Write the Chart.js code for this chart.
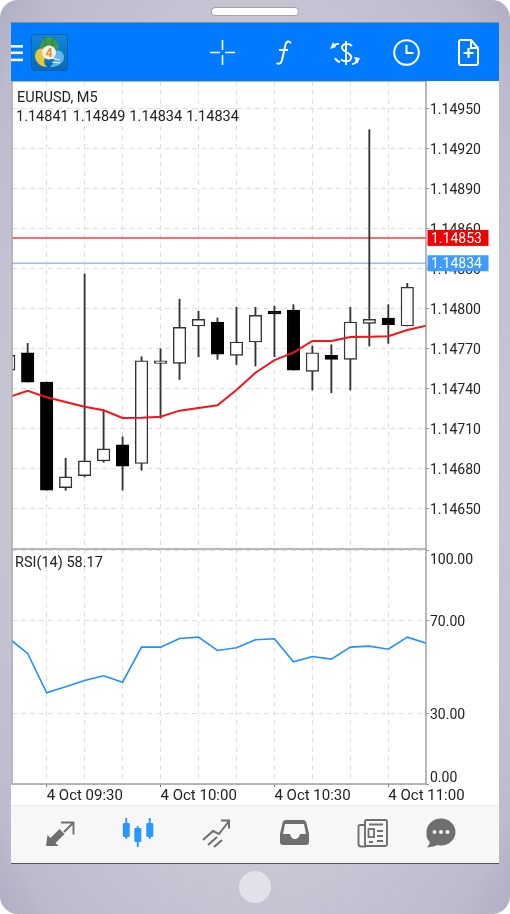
<!DOCTYPE html>
<html><head><meta charset="utf-8">
<script src="https://cdn.jsdelivr.net/npm/chart.js@4"></script>
<style>
html,body{margin:0;padding:0;background:#fff;width:510px;height:914px;overflow:hidden;font-family:Roboto,sans-serif}
#phone{position:absolute;left:0;top:0;width:510px;height:914px;border-radius:18px;overflow:hidden;
 background:radial-gradient(ellipse at 50% 50%,#c9c8d6 60%,#bcbbcd 90%,#aeadc2 100%);}
#speaker{position:absolute;left:212px;top:8px;width:86px;height:7px;border-radius:4px;background:#fff;border:0;box-shadow:0 0 0 1px #a3a3ad}
#home{position:absolute;left:239px;top:871px;width:32px;height:32px;border-radius:50%;background:#e1e1e9}
#screen{position:absolute;left:11px;top:22px;width:488px;height:842px;background:#fff;border-top:1px solid #8a8a92;box-sizing:border-box;border-bottom:1px solid #55555c}
#bar{position:absolute;left:11px;top:23px;width:488px;height:58px;background:#007aff}
#nav{position:absolute;left:11px;top:805px;width:488px;height:58px;background:#f7f7f7;border-top:1px solid #ececec;box-sizing:border-box}
canvas{position:absolute;display:block}
#cPrice{left:11px;top:81px}
#cRsi{left:11px;top:549px}
.t{position:absolute;font:14.5px Roboto,sans-serif;color:#222;white-space:pre;line-height:18px}
svg{position:absolute;left:0;top:0}
</style></head><body>
<div id="phone">
<div id="speaker"></div><div id="home"></div>
<div id="screen"></div><div id="bar"></div><div id="nav"></div>
<canvas id="cPrice" width="479" height="468"></canvas>
<canvas id="cRsi" width="479" height="256"></canvas>
<div class="t" style="left:17px;top:89px">EURUSD, M5</div>
<div class="t" style="left:16px;top:108px;word-spacing:0.4px">1.14841 1.14849 1.14834 1.14834</div>
<div class="t" style="left:15px;top:554px">RSI(14) 58.17</div>
<svg width="510" height="914" viewBox="0 0 510 914" fill="none">
 <defs><linearGradient id="lg" x1="0" y1="0" x2="0" y2="1"><stop offset="0" stop-color="#0f86d8"/><stop offset="1" stop-color="#0a6ab9"/></linearGradient></defs>
 <!-- hamburger -->
 <g fill="#fff"><rect x="11" y="45" width="12" height="2.6"/><rect x="11" y="51.5" width="12" height="2.6"/><rect x="11" y="58.6" width="12" height="2.6"/></g>
 <!-- logo -->
 <rect x="31.500" y="34.500" width="36" height="36" rx="3" fill="url(#lg)" stroke="#0a5ea6"/>
 <path d="M40 50c0-8 4-13 9-13s10 5 10 13c-3-2-6-3-9.500-3s-6.500 1-9.500 3z" fill="#3d9c4c"/>
 <path d="M44 37.500c1.500 3 2 7 1.500 10M54 37.500c-1.500 3-2 7-1.500 10" stroke="#2a7a3a" stroke-width="1"/>
 <path d="M36 60c-2-4-1-9 3-11 3-1.500 5 0 6.500 3l-1 8c-1 3 1 6 3 7-5 0-9-2-11.500-7z" fill="#e6c63e"/>
 <path d="M63 61c2-4 1-8-3-10-3-1.500-6 0-7 3l1 6c0 3-2 5-4 7 6 0 10-2 13-6z" fill="#5fb6e2"/>
 <path d="M51 58l9 2M52 62l8 1" stroke="#eaf6fc" stroke-width="1"/>
 <circle cx="49" cy="52.500" r="7" fill="#f6f1e4"/>
 <text x="49" y="57" text-anchor="middle" font-family="Roboto" font-weight="700" font-size="12.500" fill="#ea8a2c">4</text>
 <!-- crosshair -->
 <g stroke="#fff" stroke-width="1.6"><path d="M210 52.5h10M225 52.5h10M222.5 40v10M222.5 55v10"/></g>
 <!-- f -->
 <path d="M291 43c-3-3-5-1-5.600 2l-3.400 15c-.7 3.500-3 4.500-5.500 3M279 50h9" stroke="#fff" stroke-width="2"/>
 <!-- dollar exchange -->
 <g stroke="#fff" stroke-width="1.900"><path d="M346 41v24M352 46c-3-3-9-3-10 1-.6 3 3 4 5 5.500 3 1.700 5 3 4 6-1 3.500-7 3.500-10 1"/>
  <path d="M339 44c-2-.5-4 .5-5.500 2M335 58c1 2 3 3.600 5 4M352 64c2 0 4-1 5-4"/></g>
 <g fill="#fff"><path d="M330 49l3-7 3 5zM354 57l6 1-3 6z"/></g>
 <!-- clock -->
 <circle cx="406.500" cy="52.500" r="12.300" stroke="#fff" stroke-width="2"/><path d="M406.500 45v8h7" stroke="#fff" stroke-width="2"/>
 <!-- new doc -->
 <path d="M459 42a2 2 0 0 1 2-2h10l7 8v15a2 2 0 0 1-2 2h-15a2 2 0 0 1-2-2zM471 40v8h7" stroke="#fff" stroke-width="2"/>
 <path d="M468.500 48v10M463.500 53h10" stroke="#fff" stroke-width="2.200"/>
 <!-- bottom nav: deal arrows -->
 <g fill="#6e6e6e"><path d="M46 846l1.500-11 3 3 9-9 5 5-9 9 3 3z"/></g>
 <g stroke="#6e6e6e" stroke-width="1.900"><path d="M61 822.500h12.500v12M73 823l-9 9"/></g>
 <!-- candles (active) -->
 <g fill="#2c96ff"><rect x="122.800" y="823" width="7" height="14" rx="1.200"/><rect x="125.300" y="818" width="1.900" height="21"/>
 <rect x="134.300" y="828" width="7" height="14" rx="1.200"/><rect x="136.800" y="826" width="1.900" height="21"/>
 <rect x="146.300" y="823" width="7" height="14" rx="1.200"/><rect x="148.800" y="818" width="1.900" height="21"/></g>
 <!-- trend -->
 <g stroke="#6e6e6e" stroke-width="2"><path d="M203 840l10-9 6 3 10-13M221 820.500h8v8M208 845l9-8M214 847l8-7"/></g>
 <!-- inbox -->
 <path d="M286 820h17c2 0 3 1 3.500 3l2.500 11v8c0 2-1 3-3 3h-23c-2 0-3-1-3-3v-8l2.500-11c.5-2 1.500-3 3.500-3zM283 834h7c1 4 3 5 5 5s4-1 5-5h6l-2-10h-19z" fill="#6e6e6e" fill-rule="evenodd"/>
 <!-- news -->
 <g stroke="#6e6e6e" stroke-width="1.900"><rect x="365" y="820" width="22" height="26" rx="1.500"/><path d="M365 825h-5c-1 0-1.500 1-1.500 2v17c0 1.300 1 2.500 2.500 2.500h5M369 824.500h14M377 831h6M377 836h6M377 841h6M369 842h4"/></g>
 <rect x="368.500" y="829" width="5.500" height="8" stroke="#6e6e6e" stroke-width="1.800"/>
 <!-- chat -->
 <path d="M441 818.500c8 0 14.500 6 14.500 13.500s-6.500 13.500-14.500 13.500c-1.500 0-3-.2-4-.5-2 1.500-5 1.500-10 2.500 2-2.500 3-3.500 2.500-6-3-2.500-3-6-3-9.500 0-7.500 6.500-13.500 14.500-13.500z" fill="#6e6e6e"/>
 <g fill="#f7f7f7"><circle cx="434.500" cy="832" r="2"/><circle cx="441" cy="832" r="2"/><circle cx="447.500" cy="832" r="2"/></g>
</svg>
</div>
<script>
// candle index: 5-minute bars, index 2 is 4 Oct 09:30
const candleIndex=[0,1,2,3,4,5,6,7,8,9,10,11,12,13,14,15,16,17,18,19,20,21];
const openSeries =[1.14754,1.14767,1.14745,1.14666,1.14675,1.14686,1.14698,1.14684,1.14759,1.14759,1.14787,1.14790,1.14765,1.14775,1.14798,1.14799,1.14753,1.14765,1.14762,1.14789,1.14793,1.14787];
const highSeries =[1.14768,1.14774,1.14745,1.14688,1.14826,1.14724,1.14704,1.14764,1.14770,1.14807,1.14798,1.14793,1.14801,1.14801,1.14802,1.14803,1.14772,1.14773,1.14801,1.14934,1.14803,1.14819];
const lowSeries  =[1.14752,1.14745,1.14664,1.14664,1.14674,1.14685,1.14664,1.14679,1.14718,1.14747,1.14764,1.14762,1.14758,1.14757,1.14764,1.14754,1.14739,1.14737,1.14739,1.14772,1.14774,1.14787];
const closeSeries=[1.14765,1.14745,1.14664,1.14674,1.14686,1.14695,1.14682,1.14761,1.14761,1.14786,1.14792,1.14766,1.14775,1.14795,1.14796,1.14754,1.14767,1.14762,1.14790,1.14792,1.14788,1.14816];
const maIndex=[0,1,2,3,4,5,6,7,8,9,10,11,12,13,14,15,16,17,18,19,20,21,22];
const maSeries=[1.147338,1.147385,1.147336,1.147301,1.147266,1.147239,1.147181,1.147183,1.147191,1.147236,1.147256,1.147276,1.147391,1.147520,1.147615,1.147670,1.147758,1.147758,1.147788,1.147790,1.147793,1.147840,1.147872];
const rsiSeries=[62.4,55.87,39.02,41.59,44.3,46.3,43.59,58.58,58.58,62.29,62.86,57.15,58.29,61.72,62.15,52.3,54.58,53.44,58.58,59.01,57.72,62.86,60.29];
const priceTicks=[1.1495,1.1492,1.1489,1.1486,1.1483,1.148,1.1477,1.1474,1.1471,1.1468,1.1465];
const rsiTicks=[100,70,30,0];
const timeTickIndex=[2,4,6,8,10,12,14,16,18,20];
const timeLabels={2:'4 Oct 09:30',8:'4 Oct 10:00',14:'4 Oct 10:30',20:'4 Oct 11:00'};
const askPrice=1.14853, bidPrice=1.14834;
const xRange=[0.174,21.986];
const priceRange=[1.14620,1.149705];
const rsiRange=[0,100.6];

Chart.defaults.font.family='Roboto';
Chart.defaults.font.size=14;
Chart.defaults.color='#222';
Chart.defaults.animation=false;

const gridGrey='#dedede';
const gridDash=[5,4];
const frame={id:'frame',afterDraw(c){const a=c.chartArea,x=c.ctx;x.save();x.strokeStyle='#9a9a9a';x.lineWidth=1.4;
  x.strokeRect(a.left,a.top,a.right-a.left,a.bottom-a.top);x.restore();}};
const priceTags={id:'priceTags',afterDraw(c){const x=c.ctx,s=c.scales.y,a=c.chartArea;
  [[askPrice,'#f00000'],[bidPrice,'#3f9dff']].forEach(([v,col])=>{
   const y=s.getPixelForValue(v);x.save();x.fillStyle=col;x.fillRect(a.right+1.5,y-8,61,16);
   x.fillStyle='#fff';x.font='14px Roboto';x.textAlign='left';x.textBaseline='middle';
   x.fillText(v.toFixed(5),a.right+5,y+1.5);x.restore();});}};
const yAxisFit=s=>{s.width=64;s.paddingTop=0;s.paddingBottom=0;};
const xCommon={type:'linear',min:xRange[0],max:xRange[1],offset:false,
  afterBuildTicks(a){a.ticks=timeTickIndex.map(v=>({value:v}));},
  border:{display:false,dash:gridDash}};
// Two-line tick labels with a chosen line height nudge the printed label below the tick
const yCommon=(ticks,cb,lineHeightFor)=>({type:'linear',position:'right',
  afterBuildTicks(a){a.ticks=ticks.map(v=>({value:v}));},afterFit:yAxisFit,
  border:{display:false,dash:gridDash},
  grid:{color:gridGrey,tickColor:'#9a9a9a',tickLength:3,lineWidth:1},
  ticks:{padding:1,autoSkip:false,callback:cb,color:'#222',
    font:c=>({size:14,family:'Roboto',lineHeight:lineHeightFor(c.tick?c.tick.value:null)})}});

new Chart(document.getElementById('cPrice'),{
 type:'bar',
 plugins:[frame,priceTags],
 data:{datasets:[
  {type:'line',order:0,data:maIndex.map((x,i)=>({x,y:maSeries[i]})),borderColor:'#f5141c',borderWidth:2,pointRadius:0,tension:0},
  {type:'bar',order:1,grouped:false,barThickness:12.5,borderSkipped:false,borderWidth:1.4,
   data:candleIndex.map((x,i)=>({x,y:[openSeries[i],closeSeries[i]]})),
   backgroundColor:candleIndex.map(i=>closeSeries[i]>=openSeries[i]?'#fff':'#000'),
   borderColor:candleIndex.map(i=>closeSeries[i]>=openSeries[i]?'#333':'#000')},
  {type:'bar',order:2,grouped:false,barThickness:1.2,borderWidth:0,
   data:candleIndex.map((x,i)=>({x,y:[lowSeries[i],highSeries[i]]})),backgroundColor:'#333'},
  {type:'line',order:3,data:[{x:xRange[0],y:askPrice},{x:xRange[1],y:askPrice}],borderColor:'#ff3b3b',borderWidth:1.5,pointRadius:0},
  {type:'line',order:3,data:[{x:xRange[0],y:bidPrice},{x:xRange[1],y:bidPrice}],borderColor:'#8fc4f8',borderWidth:1.5,pointRadius:0}
 ]},
 options:{responsive:false,layout:{padding:{left:1,right:0,top:0,bottom:0}},
  plugins:{legend:{display:false},tooltip:{enabled:false}},
  scales:{
   x:{...xCommon,afterFit:s=>{s.height=0;},ticks:{display:false,autoSkip:false},
      grid:{offset:false,color:gridGrey,drawTicks:false}},
   y:{...yCommon(priceTicks,v=>['',v.toFixed(5)],()=>'4px'),min:priceRange[0],max:priceRange[1]}
  }}
});

new Chart(document.getElementById('cRsi'),{
 type:'line',
 plugins:[frame],
 data:{datasets:[{data:maIndex.map((x,i)=>({x,y:rsiSeries[i]})),borderColor:'#1e90ff',borderWidth:1.6,pointRadius:0,tension:0}]},
 options:{responsive:false,layout:{padding:{left:1,right:0,top:0,bottom:0}},
  plugins:{legend:{display:false},tooltip:{enabled:false}},
  scales:{
   x:{...xCommon,afterFit:s=>{s.height=21;},
      grid:{offset:false,color:gridGrey,tickLength:3,
        tickColor:c=>c.tick&&timeLabels[c.tick.value]?'#777':'rgba(0,0,0,0)'},
      ticks:{autoSkip:false,maxRotation:0,align:'start',padding:0,color:'#222',font:{size:15},
        callback:v=>timeLabels[v]||''}},
   y:{...yCommon(rsiTicks,v=>v===0?['0.00','']:['',v.toFixed(2)],
       v=>v===100?'21px':v===0?'11.4px':'4px'),min:rsiRange[0],max:rsiRange[1]}
  }}
});
</script>
</body></html>
